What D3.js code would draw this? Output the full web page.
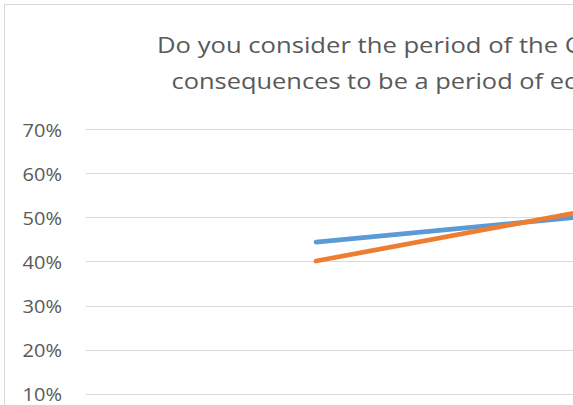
<!DOCTYPE html>
<html>
<head>
<meta charset="utf-8">
<script src="https://cdn.jsdelivr.net/npm/d3@7"></script>
<style>
  html, body { margin: 0; padding: 0; background: #fff; overflow: hidden; }
  svg { display: block; }
  text { font-family: "Open Sans", sans-serif; fill: #595959; }
</style>
</head>
<body>
<div id="chart"></div>
<script>
// ---- data ----
const titleLines = [
  "Do you consider the period of the COVID-19 pandemic and its",
  "consequences to be a period of economic crisis?"
];
const categories = ["2020", "2021"];
const seriesNames = ["Series A", "Series B"];
const seriesA = [0.444, 0.543];
const seriesB = [0.401, 0.595];
const yTicks = [0, 0.1, 0.2, 0.3, 0.4, 0.5, 0.6, 0.7];
const colors = ["#5B9BD5", "#ED7D31"];

// ---- layout ----
const W = 1012, H = 560;
const plot = { left: 86, top: 129.3, right: 1006, bottom: 437.7 };

const svg = d3.select("#chart").append("svg")
  .attr("width", W).attr("height", H);

svg.append("rect")
  .attr("x", 4.5).attr("y", 4.5)
  .attr("width", W - 9).attr("height", H - 9)
  .attr("fill", "#fff").attr("stroke", "#d9d9d9").attr("stroke-width", 1);

// title (glyphs in the reference are wider than Open Sans: stretch horizontally)
const titleX = [157, 171.5];
const titleY = [52.5, 89.3];
const titlePrefixLen = [34, 31];     // "Do you consider the period of the " / "consequences to be a period of "
const titlePrefixW = [408, 378.5];
const titles = svg.selectAll("text.title").data(titleLines).join("text")
  .attr("class", "title")
  .attr("x", 0).attr("y", 0)
  .attr("font-size", 22)
  .text(d => d);
titles.each(function(d, i) {
  const w = this.getSubStringLength(0, titlePrefixLen[i]);
  const s = titlePrefixW[i] / w;
  d3.select(this).attr("transform", `translate(${titleX[i]},${titleY[i]}) scale(${s},1)`);
});

const y = d3.scaleLinear().domain([0, 0.7]).range([plot.bottom, plot.top]);
const x = d3.scalePoint().domain(categories).range([plot.left, plot.right]).padding(0.5);

// gridlines
svg.append("g").selectAll("line").data(yTicks.filter(t => t > 0)).join("line")
  .attr("x1", plot.left).attr("x2", plot.right)
  .attr("y1", d => Math.round(y(d)) + 0.5).attr("y2", d => Math.round(y(d)) + 0.5)
  .attr("stroke", "#d9d9d9").attr("stroke-width", 1.2);

// y axis labels
const yAxis = d3.axisLeft(y).tickValues(yTicks).tickFormat(d3.format(".0%")).tickSize(0).tickPadding(0);
const gy = svg.append("g").attr("transform", `translate(${plot.left - 24},0)`).call(yAxis);
gy.select(".domain").remove();
gy.selectAll("text").attr("font-size", 18.5).attr("fill", "#595959")
  .attr("font-family", "'Open Sans', sans-serif")
  .attr("dy", "0.38em");
gy.selectAll(".tick text").each(function() {
  const w = this.getComputedTextLength();
  const s = 39.5 / w;
  d3.select(this).attr("transform", `scale(${s},1)`);
});

// lines
const line = d3.line().x((d, i) => x(categories[i])).y(d => y(d));
[seriesA, seriesB].forEach((s, k) => {
  svg.append("path").datum(s)
    .attr("d", line)
    .attr("fill", "none")
    .attr("stroke", colors[k])
    .attr("stroke-width", 4.7)
    .attr("stroke-linecap", "round")
    .attr("stroke-linejoin", "round");
});
</script>
</body>
</html>
